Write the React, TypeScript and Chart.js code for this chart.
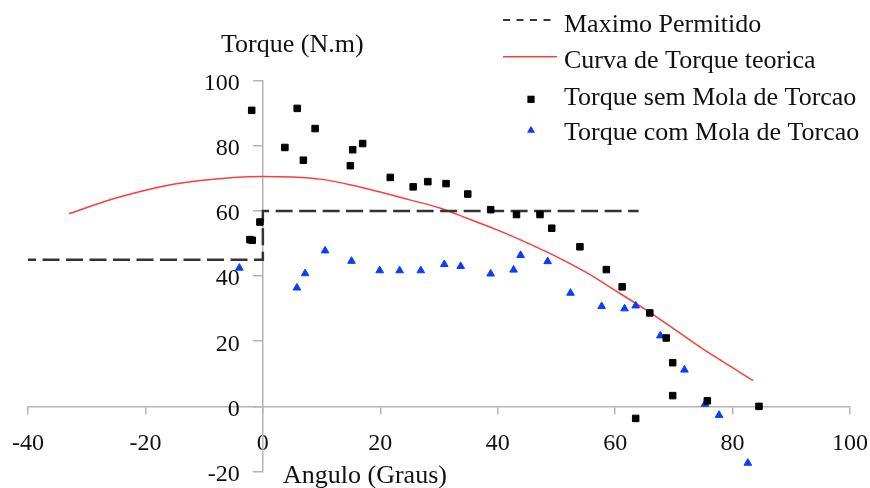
import React, { useEffect, useRef } from "react";
import { Chart, registerables } from "chart.js";

Chart.register(...registerables);

// ---- Data ----
const seriesNames = [
  "Maximo Permitido",
  "Curva de Torque teorica",
  "Torque sem Mola de Torcao",
  "Torque com Mola de Torcao",
];

const limitX = [-40, 0, 0, 64];
const limitY = [45, 45, 60, 60];

const curveX = [-33, -25, -15, -5, 0, 5, 10, 15, 20, 25, 30, 35, 40, 45, 50, 55, 60, 65, 70, 75, 80, 83.5];
const curveY = [59.2, 64.0, 68.3, 70.3, 70.6, 70.4, 69.7, 68.0, 65.8, 63.4, 61.0, 57.6, 54.1, 50.2, 46.0, 41.2, 35.6, 29.9, 23.8, 17.6, 11.9, 7.9];

const semX = [-1.9, -2.2, -1.8, -0.5, 3.75, 5.85, 6.9, 8.9, 14.9, 15.3, 17.0, 21.7, 25.6, 28.1, 31.2, 34.9, 38.8, 43.2, 47.2, 49.2, 54.0, 58.5, 61.2, 63.5, 65.9, 68.7, 69.8, 69.8, 75.7, 84.5];
const semY = [90.9, 51.2, 51.0, 56.6, 79.5, 91.5, 75.6, 85.3, 73.9, 78.8, 80.7, 70.3, 67.4, 69.0, 68.4, 65.2, 60.4, 58.9, 58.9, 54.7, 49.0, 42.0, 36.7, -3.7, 28.7, 21.0, 13.4, 3.3, 1.7, 0.0];

const comX = [-4.0, 5.8, 7.2, 10.6, 15.1, 19.9, 23.3, 26.9, 30.9, 33.7, 38.8, 42.7, 43.9, 48.5, 52.4, 57.7, 61.6, 63.5, 67.7, 71.8, 75.3, 77.7, 82.6];
const comY = [42.5, 36.4, 40.8, 47.8, 44.6, 41.7, 41.7, 41.7, 43.6, 43.0, 40.7, 41.9, 46.4, 44.5, 34.8, 30.7, 30.0, 30.9, 21.7, 11.2, 0.7, -2.7, -17.4];

const xTicks = { min: -40, max: 100, step: 20 };
const yTicks = { min: -20, max: 100, step: 20 };

const xTitle = "Angulo (Graus)";
const yTitle = "Torque (N.m)";

// ---- Styles ----
const SERIF = '"Liberation Serif", "Times New Roman", Times, serif';
const DASH_COLOR = "#333333";
const RED = "rgb(255,60,60)";
const BLACK = "#000000";
const BLUE = "#0a3cff";
const AXIS_COLOR = "#b4b4b4";
const TEXT = "#111111";

const zip = (xs: number[], ys: number[]) => xs.map((x, i) => ({ x, y: ys[i] }));

const overlayPlugin = {
  id: "overlay",
  afterDraw(chart: any) {
    const ctx = chart.ctx as CanvasRenderingContext2D;
    ctx.save();

    // y tick labels, right-aligned left of the crossing y axis
    const ys = chart.scales.y;
    const xs = chart.scales.x;
    const axisX = xs.getPixelForValue(0);
    ctx.font = `24px ${SERIF}`;
    ctx.fillStyle = TEXT;
    ctx.textAlign = "right";
    ctx.textBaseline = "middle";
    ys.ticks.forEach((t: any) => {
      ctx.fillText(String(t.value), axisX - 23, ys.getPixelForValue(t.value) + 3);
    });

    // axis titles
    ctx.font = `26px ${SERIF}`;
    ctx.textBaseline = "alphabetic";
    ctx.textAlign = "left";
    ctx.fillText(yTitle, 221, 51.5);
    ctx.fillText(xTitle, 283, 482.5);

    // legend
    const rows = [32, 68, 104.5, 140];
    const sx0 = 503, sx1 = 557, tx = 564;
    ctx.strokeStyle = DASH_COLOR;
    ctx.lineWidth = 2;
    ctx.setLineDash([7, 6.5]);
    ctx.beginPath();
    ctx.moveTo(sx0, 20);
    ctx.lineTo(sx1, 20);
    ctx.stroke();
    ctx.setLineDash([]);
    ctx.strokeStyle = RED;
    ctx.lineWidth = 1.5;
    ctx.beginPath();
    ctx.moveTo(sx0, 56.7);
    ctx.lineTo(sx1, 56.7);
    ctx.stroke();
    ctx.fillStyle = BLACK;
    ctx.fillRect(531 - 3.6, 99.3 - 3.6, 7.2, 7.2);
    ctx.fillStyle = BLUE;
    ctx.beginPath();
    ctx.moveTo(531, 125.8);
    ctx.lineTo(535, 132.8);
    ctx.lineTo(527, 132.8);
    ctx.closePath();
    ctx.fill();

    ctx.fillStyle = TEXT;
    seriesNames.forEach((n, i) => ctx.fillText(n, tx, rows[i]));
    ctx.restore();
  },
};

export default function App() {
  const ref = useRef<HTMLCanvasElement>(null);

  useEffect(() => {
    if (!ref.current) return;
    const tickFont = { family: SERIF, size: 24 };
    const chart = new Chart(ref.current, {
      type: "scatter",
      data: {
        datasets: [
          {
            label: seriesNames[2],
            data: zip(semX, semY),
            pointStyle: "rect",
            pointRadius: 4.6,
            pointBorderWidth: 1,
            backgroundColor: BLACK,
            borderColor: BLACK,
            showLine: false,
            order: 0,
          },
          {
            label: seriesNames[3],
            data: zip(comX, comY),
            pointStyle: "triangle",
            pointRadius: 4.4,
            pointBorderWidth: 1,
            backgroundColor: BLUE,
            borderColor: BLUE,
            showLine: false,
            order: 1,
          },
          {
            label: seriesNames[0],
            data: zip(limitX, limitY),
            showLine: true,
            pointRadius: 0,
            borderColor: DASH_COLOR,
            borderWidth: 2.5,
            borderDash: [17, 6.5],
            borderDashOffset: 9,
            tension: 0,
            order: 2,
          },
          {
            label: seriesNames[1],
            data: zip(curveX, curveY),
            showLine: true,
            pointRadius: 0,
            borderColor: RED,
            borderWidth: 1.5,
            tension: 0.4,
            cubicInterpolationMode: "monotone",
            order: 3,
          },
        ],
      },
      options: {
        responsive: false,
        animation: false,
        events: [],
        layout: { padding: { left: 28, right: 20, top: 80.7, bottom: 16.5 } },
        plugins: {
          legend: { display: false },
          tooltip: { enabled: false },
          title: { display: false },
        },
        scales: {
          x: {
            type: "linear",
            min: xTicks.min,
            max: xTicks.max,
            position: { y: 0 },
            afterFit: (s: any) => {
              s.height = 0;
              s.paddingLeft = 0;
              s.paddingRight = 0;
              s.paddingTop = 0;
              s.paddingBottom = 0;
            },
            ticks: {
              stepSize: xTicks.step,
              font: tickFont,
              color: TEXT,
              padding: 16,
              maxRotation: 0,
              autoSkip: false,
            },
            grid: {
              drawOnChartArea: false,
              drawTicks: true,
              tickLength: 7,
              color: AXIS_COLOR,
              lineWidth: 1.5,
            },
            border: { display: true, color: AXIS_COLOR, width: 1.5 },
          },
          y: {
            type: "linear",
            min: yTicks.min,
            max: yTicks.max,
            position: { x: 0 },
            afterFit: (s: any) => {
              s.width = 0;
              s.paddingLeft = 0;
              s.paddingRight = 0;
              s.paddingTop = 0;
              s.paddingBottom = 0;
            },
            ticks: {
              stepSize: yTicks.step,
              display: false,
              autoSkip: false,
            },
            grid: {
              drawOnChartArea: false,
              drawTicks: true,
              tickLength: 9,
              color: AXIS_COLOR,
              lineWidth: 1.5,
            },
            border: { display: true, color: AXIS_COLOR, width: 1.5 },
          },
        },
      } as any,
      plugins: [overlayPlugin],
    });
    return () => chart.destroy();
  }, []);

  return (
    <div style={{ position: "fixed", left: 0, top: 0, width: 870, height: 488, background: "#fff" }}>
      <canvas ref={ref} width={870} height={488} style={{ width: 870, height: 488, display: "block" }} />
    </div>
  );
}
